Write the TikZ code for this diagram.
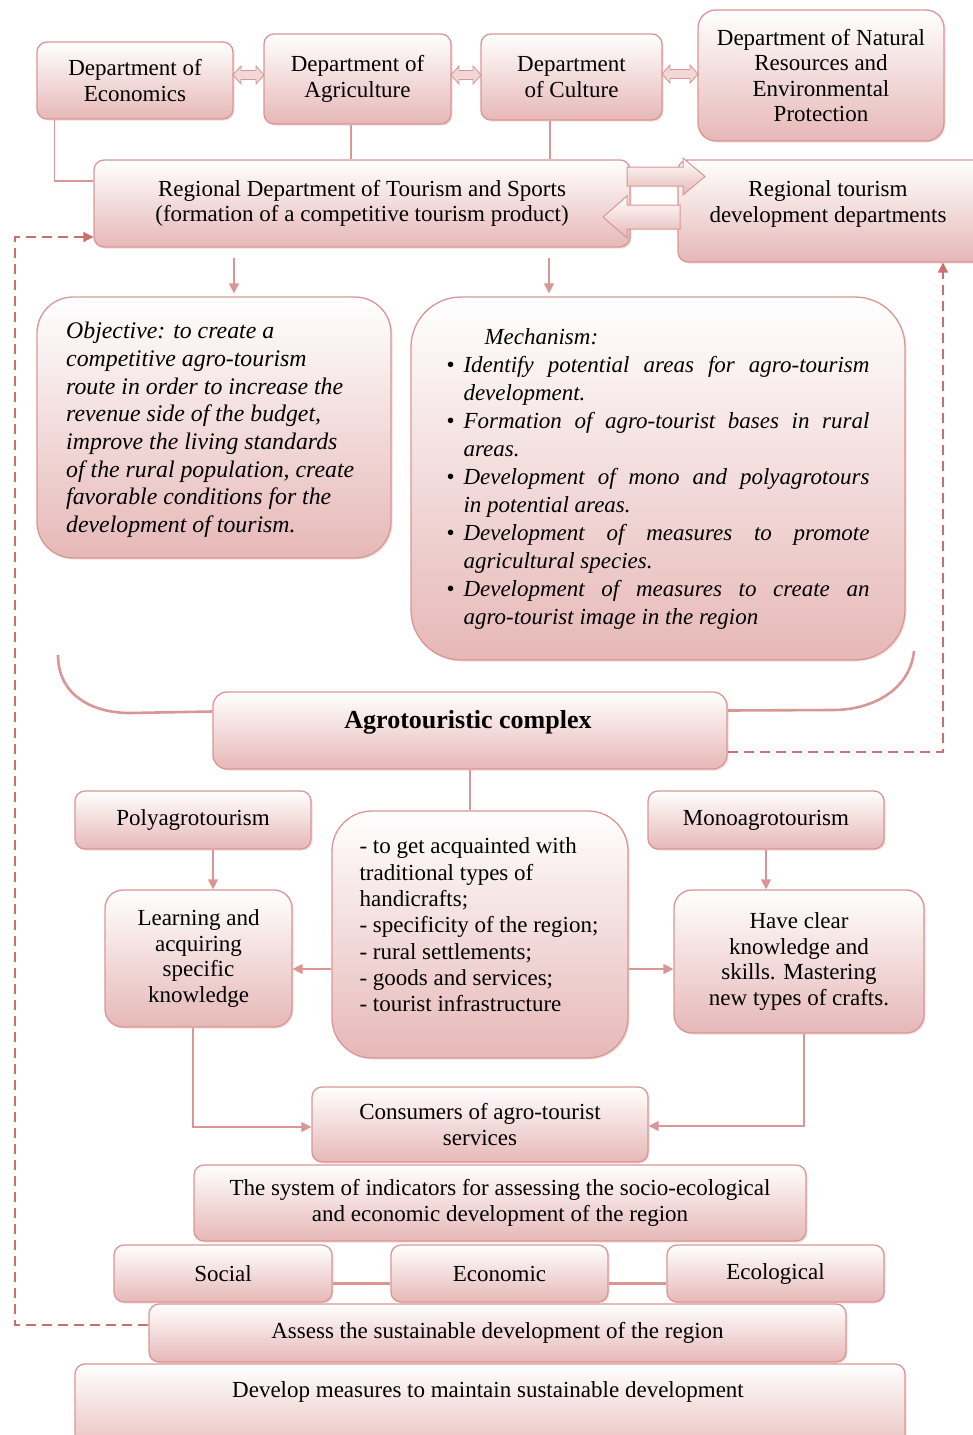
\documentclass[tikz,border=0pt]{standalone}
\usepackage{fontspec}
\setmainfont{Liberation Serif}
\usetikzlibrary{shadows,arrows.meta,calc}
\definecolor{pk}{RGB}{230,184,183}
\definecolor{bd}{RGB}{218,150,148}
\definecolor{dshc}{RGB}{208,110,110}
\newcommand\dblarr[3]{%
  \path[dbl] (#1,#3) -- ($(#1,#3)+(8,-9)$) -- ($(#1,#3)+(8,-4.5)$) -- ($(#2,#3)+(-8,-4.5)$) -- ($(#2,#3)+(-8,-9)$) -- (#2,#3)
   -- ($(#2,#3)+(-8,9)$) -- ($(#2,#3)+(-8,4.5)$) -- ($(#1,#3)+(8,4.5)$) -- ($(#1,#3)+(8,9)$) -- cycle;}
\begin{document}
\begin{tikzpicture}[x=1pt,y=-1pt,
 box/.style={draw=bd, line width=1.3pt, rounded corners=10pt, top color=white, bottom color=pk,
   align=center, inner sep=0pt, font=\fontsize{23}{25.5}\selectfont,
   drop shadow={shadow xshift=1.5pt, shadow yshift=-1.5pt, opacity=0.3, fill=bd}},
 txt/.style={align=center, inner sep=0pt, font=\fontsize{23}{25.5}\selectfont},
 conn/.style={draw=bd, line width=1.5pt},
 curv/.style={draw=bd, line width=2.6pt},
 arr/.style={conn, -{Triangle[length=10pt,width=10pt]}},
 dsh/.style={draw=dshc, line width=1.8pt, dash pattern=on 10pt off 6pt},
 blk/.style={draw=bd, line width=1pt, top color=white, bottom color=pk},
 dbl/.style={draw=bd, line width=0.9pt, fill=pk!55},
]
\useasboundingbox (0,0) rectangle (972,1435);

% top row
\node[box, minimum width=196pt, minimum height=77pt] (econ) at (135,80.5) {Department of\\Economics};
\node[box, minimum width=187pt, minimum height=90pt] (agri) at (357.5,79) {Department of\\Agriculture};
\node[box, minimum width=181pt, minimum height=86pt] (cult) at (571.5,77) {Department\\of Culture};
\node[box, rounded corners=18pt, minimum width=246pt, minimum height=131pt] (natr) at (821,75.5) {Department of Natural\\Resources and\\Environmental\\Protection};
\dblarr{233}{264}{75}
\dblarr{451}{481}{75}
\dblarr{662}{698}{74}

% regional
\node[box, minimum width=536pt, minimum height=87pt] (rdts) at (362,203.5) {Regional Department of Tourism and Sports\\(formation of a competitive tourism product)};
\node[box, minimum width=307pt, minimum height=102pt] (rtdd) at (831.5,211) {};
\node[txt] (rtddt) at (828,204) {Regional tourism\\development departments};
\path[blk] (627,167) -- (683,167) -- (683,158) -- (705,176.5) -- (683,195) -- (683,186) -- (627,186) -- cycle;
\path[blk] (680,205) -- (627,205) -- (627,196) -- (603,217) -- (627,238) -- (627,229) -- (680,229) -- cycle;

\draw[conn] ([xshift=18pt]econ.south west) |- ([yshift=22.5pt]rdts.west);
\draw[conn] ([xshift=-6.5pt]agri.south) -- ([xshift=-6.5pt]agri.south |- rdts.north);
\draw[conn] ([xshift=-21.5pt]cult.south) -- ([xshift=-21.5pt]cult.south |- rdts.north);

% objective / mechanism
\node[box, rounded corners=36pt, minimum width=354pt, minimum height=261pt] (obj) at (214,427.5) {};
\node[txt, align=left, font=\fontsize{23.8}{27.7}\selectfont\itshape, anchor=west] (objt) at (66,430)
  {Objective: to create a\\competitive agro-tourism\\route in order to increase the\\revenue side of the budget,\\improve the living standards\\of the rural population, create\\favorable conditions for the\\development of tourism.};
\node[box, rounded corners=50pt, minimum width=494pt, minimum height=363pt,
  font=\fontsize{23}{28}\selectfont\itshape] (mech) at (658,478.5)
  {\begin{minipage}{423pt}\parindent=0pt
  \hspace*{38pt}Mechanism:\par
  \hangindent=17pt\hangafter=1\makebox[17pt][l]{\upshape\textbullet}Identify potential areas for agro-tourism\linebreak development.\par
  \hangindent=17pt\hangafter=1\makebox[17pt][l]{\upshape\textbullet}Formation of agro-tourist bases in rural\linebreak areas.\par
  \hangindent=17pt\hangafter=1\makebox[17pt][l]{\upshape\textbullet}Development of mono and polyagrotours\linebreak in potential areas.\par
  \hangindent=17pt\hangafter=1\makebox[17pt][l]{\upshape\textbullet}Development of measures to promote\linebreak agricultural species.\par
  \hangindent=17pt\hangafter=1\makebox[17pt][l]{\upshape\textbullet}Development of measures to create an\linebreak agro-tourist image in the region\par
  \end{minipage}};

\draw[arr] ([xshift=-128pt,yshift=-10pt]rdts.south) -- ([xshift=20pt,yshift=3pt]obj.north);
\draw[arr] ([xshift=187pt,yshift=-10pt]rdts.south) -- ([xshift=-109pt,yshift=3pt]mech.north);

% agrotouristic complex
\node[box, rounded corners=14pt, minimum width=514pt, minimum height=77pt] (agro) at (470,730.5) {};
\node[txt, font=\fontsize{26}{28}\selectfont\bfseries] (agrot) at (468,722) {Agrotouristic complex};
\coordinate (lcurve) at (58,655);
\coordinate (rcurve) at (914,651);
\draw[curv] (lcurve) .. controls (58,695) and (92,713) .. (130,713) -- ([yshift=19pt]agro.west);
\draw[curv] (rcurve) .. controls (910,690) and (872,710) .. (833,710) -- ([yshift=20pt]agro.east);

% middle section
\node[box, minimum width=236pt, minimum height=58pt] (poly) at (193,820) {Polyagrotourism};
\node[box, minimum width=236pt, minimum height=58pt] (mono) at (766,820) {Monoagrotourism};
\node[box, rounded corners=40pt, minimum width=296pt, minimum height=247pt] (mid) at (480,934.5) {};
\node[txt, align=left, font=\fontsize{23}{26.3}\selectfont] (midt) at (479,925)
  {- to get acquainted with\\traditional types of\\handicrafts;\\- specificity of the region;\\- rural settlements;\\- goods and services;\\- tourist infrastructure};
\node[box, rounded corners=18pt, minimum width=187pt, minimum height=137pt] (learn) at (198.5,958.5) {Learning and\\acquiring\\specific\\knowledge};
\node[box, rounded corners=18pt, minimum width=250pt, minimum height=143pt] (have) at (799,961.5) {Have clear\\knowledge and\\skills. Mastering\\new types of crafts.};

\draw[conn] (agro.south) -- (agro.south |- mid.north);
\draw[arr] ([xshift=20pt]poly.south) -- ([xshift=20pt]poly.south |- learn.north);
\draw[arr] (mono.south) -- (mono.south |- have.north);
\coordinate (ml) at ([yshift=-34.5pt]mid.west);
\coordinate (mr) at ([yshift=-34.5pt]mid.east);
\draw[arr] (ml) -- (ml -| learn.east);
\draw[arr] (mr) -- (mr -| have.west);

% bottom section
\node[box, minimum width=336pt, minimum height=75pt] (cons) at (480,1124.5) {Consumers of agro-tourist\\services};
\draw[arr] ([xshift=-5.5pt]learn.south) |- ([yshift=-2.5pt]cons.west);
\draw[arr] ([xshift=5pt]have.south) |- ([yshift=-1.5pt]cons.east);
\node[box, minimum width=612pt, minimum height=76pt] (sysi) at (500,1203) {The system of indicators for assessing the socio-ecological\\and economic development of the region};
\node[box, minimum width=218pt, minimum height=57pt] (soc) at (223,1273.5) {Social};
\node[box, minimum width=217pt, minimum height=57pt] (eco) at (499.5,1273.5) {Economic};
\node[box, minimum width=217pt, minimum height=57pt] (ecl) at (775.5,1273.5) {Ecological};
\draw[draw=bd, line width=3pt] ([yshift=-9.5pt]soc.east) -- ([yshift=-9.5pt]eco.west);
\draw[draw=bd, line width=3pt] ([yshift=-9.5pt]eco.east) -- ([yshift=-9.5pt]ecl.west);
\node[box, minimum width=697pt, minimum height=58pt] (assess) at (497.5,1333) {Assess the sustainable development of the region};
\node[box, minimum width=830pt, minimum height=96pt] (dev) at (490,1412) {};
\node[txt] (devt) at (488,1392) {Develop measures to maintain sustainable development};

% dashed feedback lines
\coordinate (dleft) at (15,700);
\draw[dsh, -{Triangle[length=10pt,width=10pt]}] ([yshift=8pt]assess.west) -| (dleft) |- ([yshift=-33.5pt]rdts.west);
\draw[dsh, -{Triangle[length=10pt,width=10pt]}] ([yshift=-21.5pt]agro.east) -| ([xshift=111.5pt]rtdd.south);
\end{tikzpicture}
\end{document}
